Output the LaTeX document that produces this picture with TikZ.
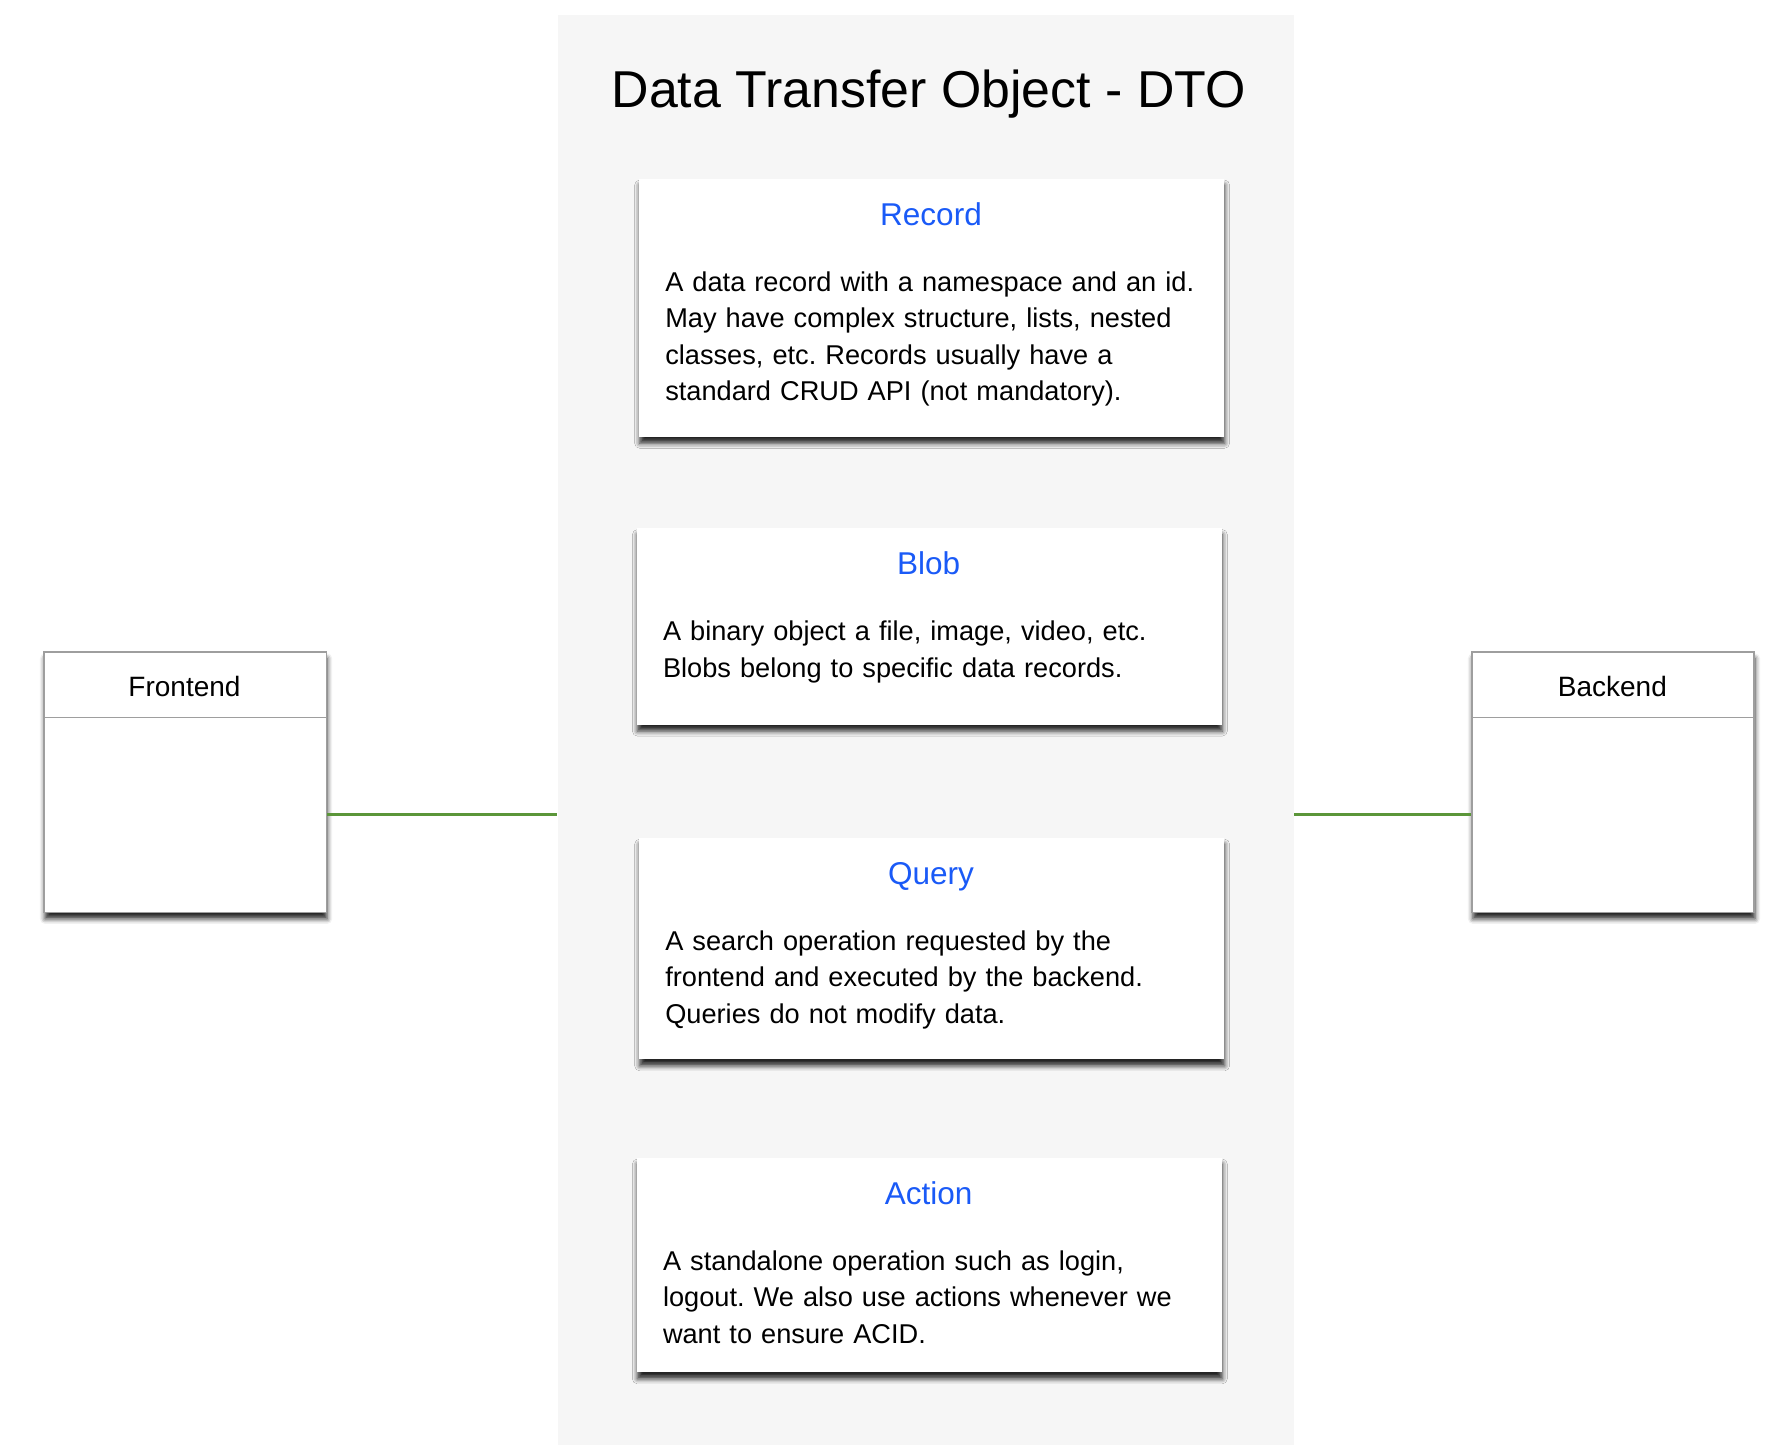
\documentclass[tikz,border=0pt]{standalone}
\usepackage{fontspec}
\setmainfont{Liberation Sans}
\frenchspacing
\usetikzlibrary{shadows.blur}
\definecolor{panelgray}{HTML}{F6F6F6}
\definecolor{titleblue}{HTML}{1A5AF7}
\definecolor{linkgreen}{HTML}{5B9639}
\definecolor{bordergray}{HTML}{9E9E9E}
\tikzset{
  dshadow/.style={blur shadow={shadow xshift=0.3pt, shadow yshift=-2.8pt, shadow blur radius=2.2pt, shadow opacity=85}},
  card/.style={draw=none, fill=white, anchor=north west, inner sep=0pt,
    minimum width=256pt, dshadow},
  sidebox/.style={draw=bordergray, line width=0.8pt, fill=white, anchor=north west, inner sep=0pt,
    minimum width=123.5pt, minimum height=114pt, dshadow},
  cardtitle/.style={anchor=base, inner sep=0pt, text=titleblue, font=\fontsize{13.8pt}{16pt}\selectfont},
  cardbody/.style={anchor=base west, inner sep=0pt, text width=250pt, align=left, font=\fontsize{11.9pt}{16pt}\selectfont},
  sidelabel/.style={anchor=base, inner sep=0pt, font=\fontsize{12.25pt}{16pt}\selectfont},
  link/.style={draw=linkgreen, line width=1.6pt}
}
\begin{document}
\begin{tikzpicture}[x=0.5pt, y=-0.5pt]
\useasboundingbox (0,0) rectangle (1560,1271);
% panel
\node[fill=panelgray, draw=none, anchor=north west, inner sep=0pt, minimum width=322pt, minimum height=626pt] (panel) at (488,13) {};
\node[anchor=base, inner sep=0pt, font=\fontsize{22.7pt}{26pt}\selectfont] (title) at (813,94) {Data Transfer Object - DTO};
% cards
\node[card, minimum height=113pt] (rec) at (559,156) {};
\node[cardtitle] (rect) at (815,197) {Record};
\node[cardbody] (recb) at (582,255) {A data record with a namespace and an id.\\ May have complex structure, lists, nested\\ classes, etc. Records usually have a\\ standard CRUD API (not mandatory).};

\node[card, minimum height=86pt] (blob) at (557,462) {};
\node[cardtitle] (blobt) at (813,503) {Blob};
\node[cardbody] (blobb) at (580,561) {A binary object a file, image, video, etc.\\ Blobs belong to specific data records.};

\node[card, minimum height=97pt] (qry) at (559,733) {};
\node[cardtitle] (qryt) at (815,774) {Query};
\node[cardbody] (qryb) at (582,832) {A search operation requested by the\\ frontend and executed by the backend.\\ Queries do not modify data.};

\node[card, minimum height=94pt] (act) at (557,1013) {};
\node[cardtitle] (actt) at (813,1054) {Action};
\node[cardbody] (actb) at (580,1112) {A standalone operation such as login,\\ logout. We also use actions whenever we\\ want to ensure ACID.};

% side boxes
\node[sidebox] (fe) at (38,570) {};
\draw[draw=bordergray, line width=0.7pt] (fe.west |- 0,628) -- (fe.east |- 0,628);
\node[sidelabel] (fel) at (161.5,610) {Frontend};
\node[sidebox] (be) at (1288,570) {};
\draw[draw=bordergray, line width=0.7pt] (be.west |- 0,628) -- (be.east |- 0,628);
\node[sidelabel] (bel) at (1411.5,610) {Backend};

% connectors
\coordinate (ly) at (0,713);
\draw[link] (fe.east |- ly) -- (panel.west |- ly);
\draw[link] (panel.east |- ly) -- (be.west |- ly);
\end{tikzpicture}
\end{document}
